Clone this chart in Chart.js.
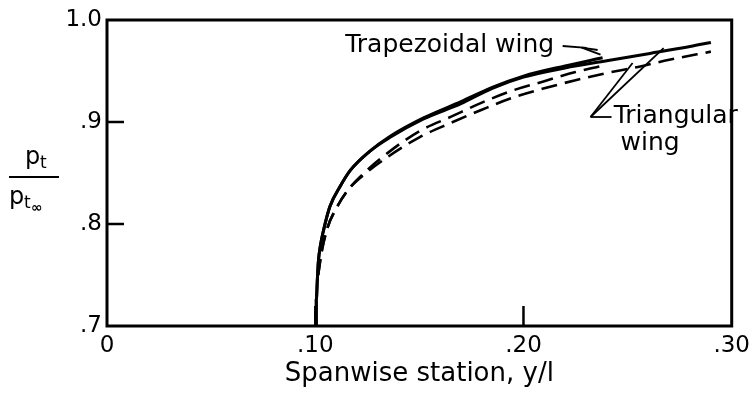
<!DOCTYPE html>
<html>
<head>
<meta charset="utf-8">
<script src="https://cdn.jsdelivr.net/npm/chart.js@4"></script>
<style>
  html, body { margin: 0; padding: 0; background: #fff; }
</style>
</head>
<body>
<canvas id="myChart" width="756" height="400"></canvas>
<script>
// ---- data ----
var trapSolidX = [0.1005, 0.1005, 0.1010, 0.1015, 0.1025, 0.1040, 0.1070, 0.1120, 0.1170, 0.1260, 0.1360, 0.1520, 0.1700, 0.1850, 0.2000, 0.2200, 0.2380];
var trapSolidY = [0.700, 0.725, 0.745, 0.763, 0.779, 0.794, 0.817, 0.837, 0.853, 0.871, 0.886, 0.904, 0.920, 0.934, 0.945, 0.955, 0.963];

var triSolidX = [0.1005, 0.1005, 0.1010, 0.1015, 0.1025, 0.1040, 0.1070, 0.1120, 0.1170, 0.1260, 0.1360, 0.1520, 0.1700, 0.1850, 0.2000, 0.2200, 0.2400, 0.2600, 0.2800, 0.2900];
var triSolidY = [0.700, 0.725, 0.745, 0.763, 0.779, 0.794, 0.817, 0.837, 0.853, 0.871, 0.885, 0.903, 0.918, 0.933, 0.944, 0.953, 0.960, 0.967, 0.974, 0.978];

var trapDashX = [0.1014, 0.1030, 0.1060, 0.1100, 0.1160, 0.1250, 0.1350, 0.1500, 0.1650, 0.1800, 0.1950, 0.2100, 0.2250, 0.2400];
var trapDashY = [0.750, 0.772, 0.797, 0.815, 0.834, 0.853, 0.870, 0.891, 0.905, 0.919, 0.931, 0.940, 0.949, 0.956];

var triDashX = [0.1014, 0.1030, 0.1060, 0.1100, 0.1160, 0.1250, 0.1350, 0.1500, 0.1650, 0.1800, 0.1950, 0.2100, 0.2250, 0.2400, 0.2550, 0.2700, 0.2900];
var triDashY = [0.750, 0.772, 0.797, 0.815, 0.834, 0.851, 0.866, 0.885, 0.899, 0.912, 0.924, 0.933, 0.941, 0.948, 0.954, 0.961, 0.969];

var xTickLabels = ['0', '.10', '.20', '.30'];
var yTickLabels = ['.7', '.8', '.9', '1.0'];

var FONT = "'DejaVu Sans', sans-serif";

function pts(xs, ys) {
  return xs.map(function (x, i) { return { x: x, y: ys[i] }; });
}

function curve(label, xs, ys, dashed) {
  return {
    label: label,
    data: pts(xs, ys),
    showLine: true,
    borderColor: '#000',
    borderWidth: dashed ? 2.6 : 3,
    borderDash: dashed ? [16, 8] : [],
    pointRadius: 0,
    fill: false,
    cubicInterpolationMode: 'monotone'
  };
}

// frame, inner ticks, y title fraction and the curve labels
var decor = {
  id: 'decor',
  afterDraw: function (chart) {
    var c = chart.ctx, a = chart.chartArea;
    var xs = chart.scales.x, ys = chart.scales.y;
    function P(x, y) { return [xs.getPixelForValue(x), ys.getPixelForValue(y)]; }
    c.save();
    c.strokeStyle = '#000';
    c.lineWidth = 3;
    c.strokeRect(a.left, a.top, a.right - a.left, a.bottom - a.top);

    c.lineWidth = 2.5;
    [0.1, 0.2].forEach(function (v) {
      var px = xs.getPixelForValue(v);
      c.beginPath(); c.moveTo(px, a.bottom); c.lineTo(px, a.bottom - 20); c.stroke();
    });
    [0.8, 0.9].forEach(function (v) {
      var py = ys.getPixelForValue(v);
      c.beginPath(); c.moveTo(a.left, py); c.lineTo(a.left + 17, py); c.stroke();
    });

    // y axis title  p_t / p_t∞
    c.fillStyle = '#000';
    c.textBaseline = 'alphabetic';
    c.textAlign = 'left';
    c.font = '24px ' + FONT;
    c.fillText('p', 25, 164);
    c.font = '17px ' + FONT;
    c.fillText('t', 40, 168);
    c.lineWidth = 2;
    c.beginPath(); c.moveTo(9, 177); c.lineTo(59, 177); c.stroke();
    c.font = '24px ' + FONT;
    c.fillText('p', 9, 204);
    c.font = '17px ' + FONT;
    c.fillText('t', 24, 208);
    c.font = 'bold 14px ' + FONT;
    c.fillText('\u221e', 31, 212);

    // labels
    c.font = '25px ' + FONT;
    var p = P(0.1144, 0.9686);
    c.fillText('Trapezoidal wing', p[0], p[1]);
    p = P(0.2433, 0.899);
    c.fillText('Triangular', p[0], p[1]);
    p = P(0.2466, 0.8725);
    c.fillText('wing', p[0], p[1]);

    c.lineWidth = 1.8;
    function seg(x1, y1, x2, y2) {
      var p1 = P(x1, y1), p2 = P(x2, y2);
      c.beginPath(); c.moveTo(p1[0], p1[1]); c.lineTo(p2[0], p2[1]); c.stroke();
    }
    seg(0.2188, 0.9745, 0.2303, 0.9726);
    seg(0.2280, 0.9730, 0.2356, 0.9706);
    seg(0.2280, 0.9730, 0.2370, 0.9660);
    seg(0.2322, 0.9049, 0.2423, 0.9049);
    seg(0.2322, 0.9049, 0.2524, 0.9578);
    seg(0.2322, 0.9049, 0.2673, 0.9725);
    c.restore();
  }
};

var ctx = document.getElementById('myChart').getContext('2d');

var myChart = new Chart(ctx, {
  type: 'scatter',
  data: {
    datasets: [
      curve('Trapezoidal wing', trapSolidX, trapSolidY, false),
      curve('Triangular wing', triSolidX, triSolidY, false),
      curve('Trapezoidal wing, dashed', trapDashX, trapDashY, true),
      curve('Triangular wing, dashed', triDashX, triDashY, true)
    ]
  },
  options: {
    responsive: false,
    animation: false,
    layout: { padding: { top: 20, right: 23, left: 0, bottom: 0 } },
    plugins: {
      legend: { display: false },
      tooltip: { enabled: false }
    },
    scales: {
      x: {
        type: 'linear',
        min: 0,
        max: 0.3,
        grid: { display: false, drawTicks: false },
        border: { display: false },
        ticks: {
          stepSize: 0.1,
          padding: 6,
          color: '#000',
          font: { family: FONT, size: 23 },
          callback: function (v, i) { return xTickLabels[i]; }
        },
        title: {
          display: true,
          text: 'Spanwise station, y/l',
          color: '#000',
          font: { family: FONT, size: 26 },
          padding: { top: 0, bottom: 10 }
        },
        afterFit: function (scale) { scale.height = 74; }
      },
      y: {
        type: 'linear',
        min: 0.7,
        max: 1.0,
        grid: { display: false, drawTicks: false },
        border: { display: false },
        ticks: {
          stepSize: 0.1,
          padding: 5,
          color: '#000',
          font: { family: FONT, size: 23 },
          callback: function (v, i) { return yTickLabels[i]; }
        },
        afterFit: function (scale) { scale.width = 107; }
      }
    }
  },
  plugins: [decor]
});
</script>
</body>
</html>
